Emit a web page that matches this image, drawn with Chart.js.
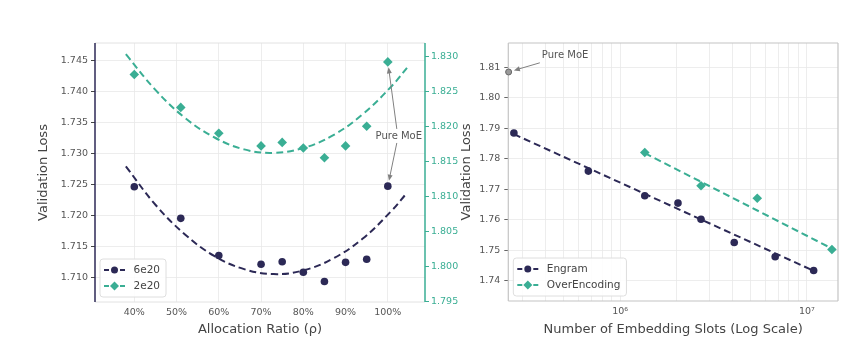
<!DOCTYPE html>
<html>
<head>
<meta charset="utf-8">
<script src="https://cdn.jsdelivr.net/npm/chart.js@4.4.1/dist/chart.umd.min.js"></script>
<style>
    html, body { margin: 0; padding: 0; background: #fff; }
    #wrap { position: relative; width: 868px; height: 347px; overflow: hidden; }
    canvas { position: absolute; top: 0; }
    #ratioChart { left: 0; }
    #slotsChart { left: 455px; }
</style>
</head>
<body>
<div id="wrap">
    <canvas id="ratioChart" width="460" height="347"></canvas>
    <canvas id="slotsChart" width="413" height="347"></canvas>
</div>
<script>
// Allocation ratio sweep (left panel)
const allocRatio = [40, 51, 60, 70, 75, 80, 85, 90, 95, 100];
const loss6e20 = [1.7247, 1.7196, 1.7136, 1.7122, 1.7126, 1.7109, 1.7094, 1.7125, 1.7130, 1.7248];
const loss2e20 = [1.8274, 1.8227, 1.8190, 1.8172, 1.8177, 1.8169, 1.8155, 1.8172, 1.8200, 1.8292];

// quadratic trend curves
const fitRatio6e20 = [38, 45, 52, 59, 66, 73, 80, 87, 94, 101, 104.5];
const fit6e20 = [1.7280, 1.7218, 1.7170, 1.7135, 1.7114, 1.7106, 1.7112, 1.7131, 1.7163, 1.7209, 1.7237];
const fitRatio2e20 = [38, 45, 52, 59, 66, 73, 80, 87, 94, 101, 105];
const fit2e20 = [1.8303, 1.8252, 1.8212, 1.8184, 1.8167, 1.8162, 1.8169, 1.8187, 1.8217, 1.8258, 1.8287];

const ratioTicks = [40, 50, 60, 70, 80, 90, 100];
const loss6e20Ticks = [1.710, 1.715, 1.720, 1.725, 1.730, 1.735, 1.740, 1.745];
const loss2e20Ticks = [1.795, 1.800, 1.805, 1.810, 1.815, 1.820, 1.825, 1.830];

// Embedding slot sweep (right panel)
const engramSlots = [2.7e5, 6.76e5, 1.355e6, 2.04e6, 2.71e6, 4.08e6, 6.76e6, 1.086e7];
const engramLoss = [1.7884, 1.7759, 1.7678, 1.7654, 1.7601, 1.7525, 1.7478, 1.7433];
const overEncSlots = [1.355e6, 2.71e6, 5.42e6, 1.36e7];
const overEncLoss = [1.7820, 1.7711, 1.7670, 1.7502];
const engramFitSlots = [2.7e5, 1.086e7];
const engramFit = [1.7880, 1.7432];
const overEncFitSlots = [1.355e6, 1.36e7];
const overEncFit = [1.7818, 1.7505];
const pureMoeSlots = [2.53e5];
const pureMoeLoss = [1.8084];

const slotTicks = [3e5, 4e5, 5e5, 6e5, 7e5, 8e5, 9e5, 1e6, 2e6, 3e6, 4e6, 5e6, 6e6, 7e6, 8e6, 9e6, 1e7];
const slotLossTicks = [1.74, 1.75, 1.76, 1.77, 1.78, 1.79, 1.80, 1.81];

const NAVY = '#2c2956';
const TEAL = '#3aae94';
const GRID = '#e8e8e8';
const TEXT = '#555';

Chart.defaults.font.family = '"DejaVu Sans", sans-serif';
Chart.defaults.animation = false;
Chart.defaults.events = [];

const toPoints = (xs, ys) => xs.map((x, i) => ({ x: x, y: ys[i] }));
const useTicks = list => axis => { axis.ticks = list.map(v => ({ value: v })); };

// plot frame, one colour per side
const framePlugin = {
    id: 'frame',
    beforeDatasetsDraw(chart, args, opts) {
        const { ctx, chartArea: a } = chart;
        const sides = [
            [a.left, a.top, a.right, a.top, opts.top],
            [a.left, a.bottom, a.right, a.bottom, opts.bottom],
            [a.left, a.top, a.left, a.bottom, opts.left],
            [a.right, a.top, a.right, a.bottom, opts.right]
        ];
        ctx.save();
        sides.forEach(([x1, y1, x2, y2, s]) => {
            ctx.strokeStyle = s.color;
            ctx.lineWidth = s.width;
            ctx.beginPath();
            ctx.moveTo(x1, y1);
            ctx.lineTo(x2, y2);
            ctx.stroke();
        });
        ctx.restore();
    }
};

function drawMarker(ctx, style, x, y, color) {
    ctx.fillStyle = color;
    ctx.beginPath();
    if (style === 'rectRot') {
        const r = 4.5;
        ctx.moveTo(x - r, y);
        ctx.lineTo(x, y - r);
        ctx.lineTo(x + r, y);
        ctx.lineTo(x, y + r);
        ctx.closePath();
    } else {
        ctx.arc(x, y, 3.5, 0, Math.PI * 2);
    }
    ctx.fill();
}

// legend in the lower left corner: dashed handle + marker
const legendPlugin = {
    id: 'cornerLegend',
    afterDatasetsDraw(chart) {
        const { ctx, chartArea: a } = chart;
        const items = chart.data.datasets.filter(d => d.legend);
        ctx.save();
        ctx.font = '10.5px "DejaVu Sans", sans-serif';
        const textW = Math.max(...items.map(d => ctx.measureText(d.label).width));
        const rowH = 16;
        const boxW = 33.5 + textW + 6;
        const boxH = items.length * rowH + 6;
        const left = a.left + 5;
        const top = a.bottom - 5 - boxH;

        ctx.fillStyle = 'rgba(255,255,255,0.85)';
        ctx.strokeStyle = '#dedede';
        ctx.lineWidth = 1;
        ctx.beginPath();
        ctx.roundRect(left, top, boxW, boxH, 3);
        ctx.fill();
        ctx.stroke();

        items.forEach((d, i) => {
            const y = top + 11 + i * rowH;
            ctx.strokeStyle = d.backgroundColor;
            ctx.lineWidth = 2;
            ctx.setLineDash([5, 3]);
            ctx.beginPath();
            ctx.moveTo(left + 4, y);
            ctx.lineTo(left + 25, y);
            ctx.stroke();
            ctx.setLineDash([]);
            drawMarker(ctx, d.pointStyle, left + 14.5, y, d.backgroundColor);
            ctx.fillStyle = '#444';
            ctx.textBaseline = 'middle';
            ctx.textAlign = 'left';
            ctx.fillText(d.label, left + 33.5, y + 0.5);
        });
        ctx.restore();
    }
};

// "Pure MoE" callout with arrows to the baseline points
const notePlugin = {
    id: 'pureMoeNote',
    afterDatasetsDraw(chart, args, opts) {
        const { ctx, scales } = chart;
        const tx = scales.x.getPixelForValue(opts.at.x);
        const ty = scales[opts.at.axis].getPixelForValue(opts.at.y);
        ctx.save();
        ctx.font = '10px "DejaVu Sans", sans-serif';
        ctx.fillStyle = '#555';
        ctx.textAlign = opts.align;
        ctx.textBaseline = 'middle';
        ctx.fillText(opts.text, tx, ty);

        opts.targets.forEach(t => {
            const sx = tx + t.dx, sy = ty + t.dy;
            const px = scales.x.getPixelForValue(t.x);
            const py = scales[t.axis].getPixelForValue(t.y);
            const ang = Math.atan2(py - sy, px - sx);
            const ex = px - Math.cos(ang) * 5.5;
            const ey = py - Math.sin(ang) * 5.5;
            ctx.strokeStyle = '#808080';
            ctx.fillStyle = '#808080';
            ctx.lineWidth = 1;
            ctx.beginPath();
            ctx.moveTo(sx, sy);
            ctx.lineTo(ex - Math.cos(ang) * 4, ey - Math.sin(ang) * 4);
            ctx.stroke();
            ctx.beginPath();
            ctx.moveTo(ex, ey);
            ctx.lineTo(ex - Math.cos(ang) * 6 + Math.sin(ang) * 2.5, ey - Math.sin(ang) * 6 - Math.cos(ang) * 2.5);
            ctx.lineTo(ex - Math.cos(ang) * 6 - Math.sin(ang) * 2.5, ey - Math.sin(ang) * 6 + Math.cos(ang) * 2.5);
            ctx.closePath();
            ctx.fill();
        });
        ctx.restore();
    }
};

function scatterSet(label, points, color, style, radius, axis) {
    return {
        label: label,
        legend: true,
        data: points,
        yAxisID: axis,
        showLine: false,
        backgroundColor: color,
        borderColor: color,
        pointStyle: style,
        pointRadius: radius,
        pointBorderWidth: 0,
        order: 1
    };
}

function fitSet(points, color, axis, tension) {
    return {
        label: '',
        data: points,
        yAxisID: axis,
        showLine: true,
        borderColor: color,
        borderWidth: 2,
        borderDash: [7, 4],
        pointRadius: 0,
        tension: tension,
        fill: false,
        order: 2
    };
}

// Left panel: loss vs allocation ratio, two compute budgets on twin axes
new Chart(document.getElementById('ratioChart'), {
    type: 'scatter',
    data: {
        datasets: [
            scatterSet('6e20', toPoints(allocRatio, loss6e20), NAVY, 'circle', 3.8, 'y'),
            scatterSet('2e20', toPoints(allocRatio, loss2e20), TEAL, 'rectRot', 4.8, 'y2'),
            fitSet(toPoints(fitRatio6e20, fit6e20), NAVY, 'y', 0.4),
            fitSet(toPoints(fitRatio2e20, fit2e20), TEAL, 'y2', 0.4)
        ]
    },
    options: {
        responsive: false,
        layout: { padding: { top: 43, left: 0, right: 0, bottom: 0 } },
        plugins: {
            legend: { display: false },
            tooltip: { enabled: false },
            frame: {
                top: { color: '#e2e2e2', width: 1 },
                bottom: { color: '#e2e2e2', width: 1 },
                left: { color: NAVY, width: 1.5 },
                right: { color: TEAL, width: 1.5 }
            },
            pureMoeNote: {
                text: 'Pure MoE',
                align: 'center',
                at: { x: 102.6, y: 1.7329, axis: 'y' },
                targets: [
                    { x: 100, y: loss2e20[loss2e20.length - 1], axis: 'y2', dx: -2, dy: -7 },
                    { x: 100, y: loss6e20[loss6e20.length - 1], axis: 'y', dx: -2, dy: 7 }
                ]
            }
        },
        scales: {
            x: {
                type: 'linear',
                min: 30.7,
                max: 108.8,
                afterBuildTicks: useTicks(ratioTicks),
                afterFit: axis => { axis.height = 45; },
                ticks: { callback: v => v + '%', color: TEXT, font: { size: 9.5 }, padding: 5, maxRotation: 0 },
                grid: { color: GRID, lineWidth: 0.8, drawTicks: false },
                border: { display: false },
                title: { display: true, text: 'Allocation Ratio (ρ)', color: '#444', font: { size: 13 }, padding: { top: 0, bottom: 10 } }
            },
            y: {
                position: 'left',
                min: 1.7061,
                max: 1.7479,
                afterBuildTicks: useTicks(loss6e20Ticks),
                afterFit: axis => { axis.width = 95; },
                ticks: { callback: v => v.toFixed(3), color: TEXT, font: { size: 9.5 }, padding: 3 },
                grid: { color: GRID, lineWidth: 0.8, tickLength: 4, tickColor: '#444', tickWidth: 1 },
                border: { display: false },
                title: { display: true, text: 'Validation Loss', color: '#444', font: { size: 13 }, padding: { top: 36, bottom: 0 } }
            },
            y2: {
                position: 'right',
                min: 1.7949,
                max: 1.8319,
                afterBuildTicks: useTicks(loss2e20Ticks),
                afterFit: axis => { axis.width = 35; },
                ticks: { callback: v => v.toFixed(3), color: TEAL, font: { size: 9.5 }, padding: 2 },
                grid: { drawOnChartArea: false, tickLength: 4, tickColor: TEAL, tickWidth: 1 },
                border: { display: false }
            }
        }
    },
    plugins: [framePlugin, legendPlugin, notePlugin]
});

// Right panel: loss vs number of embedding slots (log x)
const pureMoe = scatterSet('', toPoints(pureMoeSlots, pureMoeLoss), '#9a9a9a', 'circle', 3, 'y');
pureMoe.legend = false;
pureMoe.pointBorderWidth = 1;
pureMoe.borderColor = '#666';
pureMoe.clip = false;

new Chart(document.getElementById('slotsChart'), {
    type: 'scatter',
    data: {
        datasets: [
            scatterSet('Engram', toPoints(engramSlots, engramLoss), NAVY, 'circle', 3.8, 'y'),
            scatterSet('OverEncoding', toPoints(overEncSlots, overEncLoss), TEAL, 'rectRot', 4.8, 'y'),
            pureMoe,
            fitSet(toPoints(engramFitSlots, engramFit), NAVY, 'y', 0),
            fitSet(toPoints(overEncFitSlots, overEncFit), TEAL, 'y', 0)
        ]
    },
    options: {
        responsive: false,
        layout: { padding: { top: 43, left: 0, right: 30, bottom: 0 } },
        plugins: {
            legend: { display: false },
            tooltip: { enabled: false },
            frame: {
                top: { color: '#c4c4c4', width: 1.2 },
                bottom: { color: '#c4c4c4', width: 1.2 },
                left: { color: '#c4c4c4', width: 1.2 },
                right: { color: '#c4c4c4', width: 1.2 }
            },
            pureMoeNote: {
                text: 'Pure MoE',
                align: 'left',
                at: { x: 3.81e5, y: 1.8137, axis: 'y' },
                targets: [
                    { x: pureMoeSlots[0], y: pureMoeLoss[0], axis: 'y', dx: -2, dy: 7 }
                ]
            }
        },
        scales: {
            x: {
                type: 'logarithmic',
                min: 2.52e5,
                max: 1.466e7,
                afterBuildTicks: useTicks(slotTicks),
                afterFit: axis => { axis.height = 46; },
                ticks: {
                    autoSkip: false,
                    maxRotation: 0,
                    callback: v => v === 1e6 ? '10⁶' : v === 1e7 ? '10⁷' : '',
                    color: TEXT,
                    font: { size: 9.5 },
                    padding: 5
                },
                grid: { color: GRID, lineWidth: 0.8, drawTicks: false },
                border: { display: false },
                title: { display: true, text: 'Number of Embedding Slots (Log Scale)', color: '#444', font: { size: 13 }, padding: { top: 0, bottom: 10 } }
            },
            y: {
                position: 'left',
                min: 1.7333,
                max: 1.8179,
                afterBuildTicks: useTicks(slotLossTicks),
                afterFit: axis => { axis.width = 53.3; },
                ticks: { callback: v => v.toFixed(2), color: TEXT, font: { size: 9.5 }, padding: 4 },
                grid: { color: GRID, lineWidth: 0.8, tickLength: 4, tickColor: '#666', tickWidth: 1 },
                border: { display: false },
                title: { display: true, text: 'Validation Loss', color: '#444', font: { size: 13 }, padding: { top: 4, bottom: 0 } }
            }
        }
    },
    plugins: [framePlugin, legendPlugin, notePlugin]
});
</script>
</body>
</html>
